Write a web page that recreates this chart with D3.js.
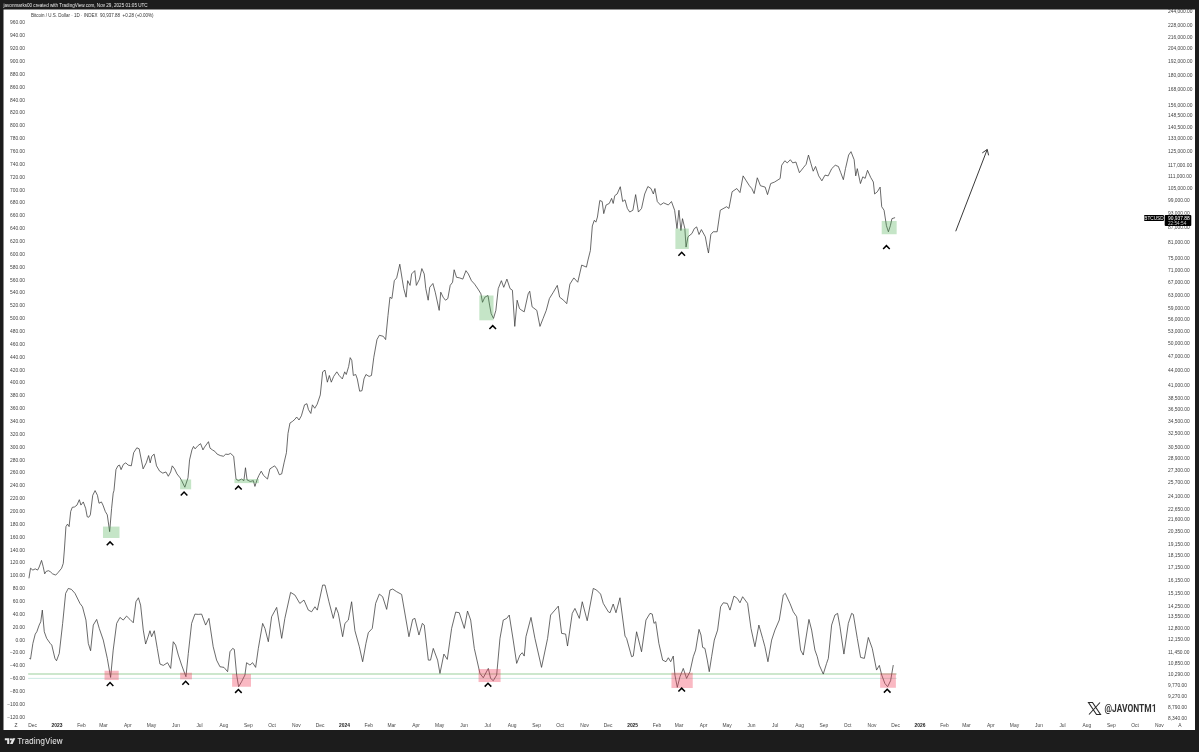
<!DOCTYPE html>
<html>
<head>
<meta charset="utf-8">
<script src="https://cdn.jsdelivr.net/npm/d3@7"></script>
<style>
  html, body { margin: 0; padding: 0; background: #fff; }
  svg { display: block; filter: blur(0.35px); }
  text { font-family: "Liberation Sans", Arial, sans-serif; }
</style>
</head>
<body>
<svg id="chart" width="1199" height="752"></svg>
<script>
// values: [days since 2023-01-01, BTCUSD close]
const priceSeries = [
  [-35,16250],[-33,17050],[-30,16900],[-27,17000],[-24,16900],[-22,17150],[-19,17700],[-17,17200],[-15,16600],[-13,16800],[-10,16850],[-7.5,16750],[-5,16600],[-1,16500],
  [2,16700],[6.5,17050],[8.6,17450],[10,18600],[12,20800],[14,21050],[16,20800],[18,22350],[20,22800],[23,22850],[26,23050],[29,23650],[31,23050],[34,23400],[37,22700],[39,21800],[41,21750],[43,22000],[46,24150],[49,24700],[52,24150],[54,23250],[57,23400],[59,23050],[62,22350],[64.5,22000],[67.5,20300],
  [70,22700],[72,24400],[73,24700],[75.5,27300],[78,27800],[80,27900],[82,27300],[85,28000],[88,28200],[91,27900],[95,27800],[98,29600],[102,30300],[105,30150],[107,29000],[110,27400],[114,28200],[117,29200],[119,28200],[121,29100],[124,29400],[127,27800],[131,27100],[135,26850],[139,27000],[142,26450],[145,27000],[147,27800],[150,27400],[153,26750],[157,26250],[159,25900],[163,25100],[167,26250],[169,28600],[172,30000],[174,30500],[176,30150],[178,30400],[180,30650],[183,30900],[186,30000],[188,30400],[193,31200],[195,30250],[198,30000],[201,29800],[204,29400],[208,29200],[212,29100],[215,29400],[218,29350],[221,29500],[225,29100],[228,26100],[231,25900],[235,26100],[238,25900],[240,27550],[242,26000],[246,25800],[250,25900],[252,25200],[255,26100],[257,26550],[260,27100],[263,26550],[268,26100],[271,27400],[274,27600],[277,27800],[280,27400],[283,26650],[286,26750],[289,28200],[292,29600],[294,32450],[296.5,34100],[300,34400],[303,34750],[305,35100],[308,34600],[311,35300],[315,37200],[318,37400],[320,36350],[323,35700],[325,37200],[328,36600],[331,37300],[335,39000],
  [338,43550],[341,43900],[344,41450],[346.5,42800],[349,41450],[352,42600],[356,43550],[359,42800],[363,42100],[366,43550],[368,43000],[371,44650],[373,46600],[375,46000],[377,42800],[380,43000],[382,42100],[385,39700],[388,39800],[390.5,42100],[393,43000],[397,42600],[400,42800],[403,46700],[407,50800],[410,51850],[415,51600],[418,50800],[421,57000],[423.5,62200],[426,61800],[429,67300],[432,68200],[436,72800],[439,67800],[441,64800],[444,62200],[446,67300],[449,65800],[451,69500],[455,70600],[457,65800],[461,67800],[464,71300],[467,69500],[469,64800],[472,61300],[474,65200],[478,66400],[481,63700],[486,58400],[488,63700],[491,62200],[494,61300],[497,61800],[500,65800],[503,66800],[505,70900],[508,68400],[512,68200],[516,67800],[520,70600],[523,69500],[527,67300],[531,66200],[536,64400],[539,63200],[541,60700],[544,62200],[548,62700],[550,59900],[552,57500],[555,56200],[558,58400],[561,64800],[565,67300],[568,65200],[572,67800],[576,64800],[579,64300],[582,54100],[585,61300],[588,58900],[591,58400],[594,58000],[599,63200],[601,64000],[604,59400],[610,58400],[614,54100],[618,56200],[622,58400],[626,61800],[631,63700],[636,65800],[639,62200],[644,61300],[648,60300],[652,66200],[657,68200],[662,66800],[667,72500],[673,71800],[675,74300],[678,77700],
  [680.5,87400],[683,89800],[685,89000],[687,91200],[690,98700],[693,98200],[695,92700],[698,96600],[702,97300],[705,99700],[707,97300],[709,101000],[712,101800],[716,105400],[719,98200],[722,99000],[725,95000],[728,93400],[732,94200],[735.5,101500],[739,93400],[743,95000],[747,101800],[751,105500],[755,104500],[758,101800],[760,104500],[763,98200],[767,96600],[771,97600],[777,96600],[781,98200],[785,94200],[788,86300],[790.5,94200],[793,85500],[795,90500],[798,86300],[799.5,79000],[802,83000],[807,84300],[810,86300],[813,87000],[816,83900],[819,85900],[824,83000],[826.5,78800],[828,76800],[831,83900],[834,85000],[839,85000],[843,94200],[851,95800],[854,95000],[858,102900],[864,104500],[868,102500],[872,111000],[876,108400],[880,105900],[883,104500],[886,102000],[890,110000],[894,105900],[900,105200],[903,101500],[907,107000],[912,107800],[919,109600],
  [921,116800],[925,119300],[928,118100],[932,119900],[935,118100],[939,118600],[943.5,112700],[949,115700],[952,117300],[955,122600],[958,117900],[961,113500],[964,116100],[968,111000],[972,108400],[976,111400],[980,111000],[984.5,114900],[989,116800],[993,116100],[996,112700],[999.3,109000],[1002,114900],[1006,122600],[1009,124600],[1013,119900],[1015,111000],[1017,114900],[1021,107000],[1024,110500],[1027,109700],[1030,114000],[1034,110200],[1037.4,107800],[1039,101800],[1042.5,102900],[1046,105200],[1048,95800],[1051,94200],[1054,87500],[1056.5,85000],[1059,87500],[1061,90500],[1065,90938]
];

// lower pane oscillator: [days since 2023-01-01, value]
const oscillatorSeries = [
  [-34.5,-29.3],[-33,-30.4],[-30,-6],[-27,8.5],[-25,12.1],[-22,22.5],[-20,27.7],[-18,45.8],[-15.5,12.1],[-12.5,1.8],[-8,-6],[-6,-8.6],[-2,-29.3],[0,-33],[3.5,-21.6],[7.8,25.1],[11.6,71.8],[15,79.5],[19,78],[23.5,71.8],[29.8,56.2],[33,51],[37.4,30.3],[40.4,-6],[43.3,-17.4],[46.7,22.5],[51,31.3],[54.3,17.3],[59.4,-0.8],[64.5,-29.3],[68.7,-58.9],[72,-16.4],[76.4,25.1],[80.6,34.4],[84.8,30.3],[89,36.5],[93.3,31.3],[97.5,26.1],[100.9,58.8],[104,65],[106.8,53.6],[110.2,14.7],[113.2,-7],[116.6,5.4],[118.7,13.7],[120.8,4.4],[124.2,13.7],[128,-13.8],[131.4,-38.1],[135.6,-40.2],[141,-36],[145,-44.9],[148.3,-3.4],[151.3,-8.6],[154.7,-24.1],[158.9,-39.7],[164.4,-57.8],[167.4,-21.6],[171.6,25.1],[175.8,39.6],[180,39.1],[184.3,39.6],[189.4,22.5],[193.6,32.9],[199,-11.2],[203.3,-32],[207.6,-42.3],[212.7,-43.3],[217.3,-50],[220.3,-19],[223.7,-13.8],[225.8,-15.3],[228.8,-55.2],[231.3,-73.4],[235,-65.6],[239.3,-55.2],[241.4,-36],[245.7,-39.7],[249,-36],[252.9,-43.3],[256.3,-13.8],[261.8,25.1],[264.7,17.3],[269,-3.4],[273.2,35.5],[279.6,50],[286,1.8],[290,32.9],[297.3,73.3],[302.8,69.2],[309,56.2],[314.3,61.4],[319.8,45.8],[324,43.2],[328.2,51],[331.2,45.8],[338,84.7],[341,84.7],[346,58.8],[351.5,32.9],[355,50],[357.9,40.7],[363.4,4.4],[366.3,25.1],
  [370.6,30.3],[374.8,58.8],[379,13.7],[384.6,-11.2],[388.8,-34.5],[393,-6],[396,10.6],[401,17.3],[405.3,56.2],[410,70.7],[414.2,66.6],[419.3,46.9],[423.5,77],[427,78.5],[432,74.4],[438.3,70.2],[447.6,4.4],[452.3,31.3],[455.2,32.9],[460.3,7],[464.6,25.1],[467,22.5],[472.2,-32],[475,-32],[478.5,-13.8],[484,-32],[487,-52.7],[492,-22.6],[496.3,-30.9],[501.8,17.3],[507,42.7],[511.5,41.7],[517.9,17.3],[522,44.3],[526,30.3],[530.6,-13.8],[537.8,-52.7],[542,-59.4],[548.4,-44.9],[551.3,-60.4],[554.7,-64],[559,-55.2],[563.2,1.8],[567.4,30.3],[571.7,32.9],[575,38.1],[580,-0.8],[584.4,-37.1],[588.6,-24.1],[591.5,-20.5],[594,-25.7],[596.2,4.4],[602.6,34.4],[607.6,1.8],[616,-43.3],[623.7,1.8],[627.5,38.1],[633,45.8],[637.3,52],[641.5,9.6],[646.6,8.5],[649,-10.1],[655,40.7],[658.4,48.4],[664,32.9],[667.7,58.8],[674,29.3],[681.7,79.5],[686,76.9],[691,70.7],[694.4,56.2],[700.8,43.2],[703,41.7],[707,55.2],[710.5,41.7],[715.6,65],[722,5.4],[724,1.8],[730.4,-26.7],[732.5,-25.7],[736.7,12.1],[743,-19],[748.6,30.3],[753.7,40.7],[756.6,39.6],[758.8,25.1],[761,27.7],[765,-6],[769.8,-32],[774,-34.5],[777,-28.3],[780,-34.5],[783.3,-25.7],[785.4,-55.2],[788.4,-74.4],[791.8,-57.8],[796,-44.9],[800.2,-60.4],
  [804.5,-50],[808.7,-26.7],[811.7,-16.4],[816,15.8],[818.5,7],[820.6,-12.2],[823.5,-13.8],[826.5,-31.9],[829,-50],[832,-26.7],[835.4,-0.8],[839.6,14.7],[843.4,51],[846.8,57.2],[851.9,56.2],[855.3,45.8],[860.4,67.6],[864.6,64],[868,57.2],[871.4,66.6],[877.7,56.2],[882,17.3],[887,-11.2],[892,22.5],[896.8,1.8],[899.7,-11.2],[903.5,-34.5],[908.2,-0.8],[912.4,14.7],[917.9,30.3],[923,69.2],[925.6,71.8],[931.5,56.2],[935.7,43.2],[940,35.5],[945,-16.4],[948.4,-24.1],[955.6,31.3],[959,14.7],[963.2,-16.4],[966.2,-26.7],[968.7,-39.7],[973.8,-53.7],[978,-37.1],[980.2,-29.3],[984.4,22.5],[988.6,38.1],[992,40.7],[995,20],[1000,-22.6],[1005.6,25.1],[1009.8,40.7],[1012,39.1],[1017,1.8],[1021.2,-27.8],[1026,-29.3],[1031,3.3],[1036,-13.8],[1041.5,-47.5],[1045,-40.2],[1048,-55.2],[1052,-68.2],[1055.5,-73.4],[1059.3,-64],[1062.7,-39.7]
];

const leftTicks = [960,940,920,900,880,860,840,820,800,780,760,740,720,700,680,660,640,620,600,580,560,540,520,500,480,460,440,420,400,380,360,340,320,300,280,260,240,220,200,180,160,140,120,100,80,60,40,20,0,-20,-40,-60,-80,-100,-120];
const rightTicks = [244000,228000,216000,204000,192000,180000,168000,156000,148500,140500,133000,125000,117000,111000,105000,99000,93000,87000,81000,75000,71000,67000,63000,59000,56000,53000,50000,47000,44000,41000,38500,36500,34500,32500,30500,28900,27300,25700,24100,22650,21600,20350,19150,18150,17150,16150,15150,14250,13550,12800,12150,11450,10850,10290,9770,9270,8790,8340];

// [first day, last day, low, high]
const greenZones = [[59,80,19700,20800],[157,171,24850,26050],[226,257,25600,26100],[537,555,55700,62700],[786,803,78300,86300],[1048,1067,84000,89500]];
const redZones = [[61,79,-63,-48.5],[157,172,-61.9,-51.6],[223,247,-73.4,-53.7],[536,564,-66.1,-45.9],[781,808,-75.4,-51.6],[1046,1066,-75,-52.6]];
const priceCarets = [[68,19200],[162,24350],[231,25050],[554,53900],[794,76500],[1054,79000]];
const oscCarets = [[68,-69.2],[164,-67.2],[231,-80],[548,-70.3],[794,-78],[1055,-79.6]];
const bandLevels = [-53.7, -60.4];
const arrowFrom = [1142, 85200];
const arrowTo = [1182, 125900];
const lastPrice = 90937.88;

const titleText = 'javonmarks00 created with TradingView.com, Nov 29, 2025 01:05 UTC';
const legendText = 'Bitcoin / U.S. Dollar · 1D · INDEX  90,937.88  +0.28 (+0.00%)';

const svg = d3.select('#chart');
const W = 1199, H = 752;
const frame = {top: 9.5, right: 1195, bottom: 730, left: 3.5};
const dark = '#1c1c1c';

const day0 = Date.UTC(2023, 0, 1);
const toDate = d => new Date(day0 + d * 864e5);

// Scales
const x = d3.scaleUtc()
  .domain([new Date(Date.UTC(2023, 0, 1)), new Date(Date.UTC(2026, 0, 1))])
  .range([56.5, 919.5]);
const yPrice = d3.scaleLog().domain([8340, 125000]).range([718, 151]);
const yOsc = d3.scaleLinear().domain([-120, 960]).range([716.7, 22.3]);

svg.append('rect').attr('width', W).attr('height', H).attr('fill', '#fff');

// Axes
const monthTicks = d3.utcMonth.range(new Date(Date.UTC(2022, 11, 1)), new Date(Date.UTC(2026, 11, 1)));
const isYear = d => d.getUTCMonth() === 0;

const leftAxis = svg.append('g')
  .attr('transform', 'translate(25,0)')
  .call(d3.axisLeft(yOsc).tickValues(leftTicks).tickSize(0).tickPadding(0).tickFormat(d3.format('.2f')));
const rightAxis = svg.append('g')
  .attr('transform', 'translate(1168,0)')
  .call(d3.axisRight(yPrice).tickValues(rightTicks).tickSize(0).tickPadding(0).tickFormat(d3.format(',.2f')));
const timeAxis = svg.append('g')
  .attr('transform', 'translate(0,723.5)')
  .call(d3.axisBottom(x).tickValues(monthTicks).tickSize(0).tickPadding(0)
    .tickFormat(d => isYear(d) ? d3.utcFormat('%Y')(d) : d3.utcFormat('%b')(d)));

[leftAxis, rightAxis, timeAxis].forEach(a => {
  a.select('.domain').remove();
  a.selectAll('text')
    .style('font-family', '"Liberation Sans", Arial, sans-serif')
    .style('font-size', '4.9px')
    .attr('fill', '#444');
});
timeAxis.selectAll('text')
  .style('font-weight', d => isYear(d) ? 'bold' : 'normal')
  .attr('fill', d => isYear(d) ? '#222' : '#444');

// Band lines in the lower pane
const bandColors = ['#9ccf9c', '#bfe3dc'];
svg.selectAll('.band')
  .data(bandLevels)
  .enter().append('line')
    .attr('class', 'band')
    .attr('x1', x(toDate(-36)))
    .attr('x2', x(toDate(1067)))
    .attr('y1', d => yOsc(d))
    .attr('y2', d => yOsc(d))
    .attr('stroke', (d, i) => bandColors[i])
    .attr('stroke-width', (d, i) => i === 0 ? 1.1 : 0.8);

// Lines
const priceLine = d3.line().x(d => x(toDate(d[0]))).y(d => yPrice(d[1]));
const oscLine = d3.line().x(d => x(toDate(d[0]))).y(d => yOsc(d[1]));

svg.append('path')
  .datum(priceSeries)
  .attr('fill', 'none')
  .attr('stroke', '#3a3a3a')
  .attr('stroke-width', 0.75)
  .attr('stroke-linejoin', 'round')
  .attr('d', priceLine);

svg.append('path')
  .datum(oscillatorSeries)
  .attr('fill', 'none')
  .attr('stroke', '#3a3a3a')
  .attr('stroke-width', 0.75)
  .attr('stroke-linejoin', 'round')
  .attr('d', oscLine);

// Highlight zones
function drawZones(zones, y, fill) {
  svg.selectAll(null)
    .data(zones)
    .enter().append('rect')
      .attr('x', d => x(toDate(d[0])))
      .attr('width', d => x(toDate(d[1])) - x(toDate(d[0])))
      .attr('y', d => y(d[3]))
      .attr('height', d => y(d[2]) - y(d[3]))
      .attr('fill', fill);
}
drawZones(greenZones, yPrice, 'rgba(76,175,80,0.32)');
drawZones(redZones, yOsc, 'rgba(240,60,90,0.36)');

// Caret marks
function drawCarets(carets, y) {
  svg.selectAll(null)
    .data(carets)
    .enter().append('path')
      .attr('transform', d => `translate(${x(toDate(d[0]))},${y(d[1])})`)
      .attr('d', 'M-3.3,1.9L0,-1.5L3.3,1.9')
      .attr('fill', 'none')
      .attr('stroke', '#000')
      .attr('stroke-width', 1.5);
}
drawCarets(priceCarets, yPrice);
drawCarets(oscCarets, yOsc);

// Arrow
const ax1 = x(toDate(arrowFrom[0])), ay1 = yPrice(arrowFrom[1]);
const ax2 = x(toDate(arrowTo[0])), ay2 = yPrice(arrowTo[1]);
const angle = Math.atan2(ay2 - ay1, ax2 - ax1);
const head = a => [ax2 - 6 * Math.cos(angle + a), ay2 - 6 * Math.sin(angle + a)];
svg.append('path')
  .attr('d', `M${ax1},${ay1}L${ax2},${ay2}M${head(0.6)}L${ax2},${ay2}L${head(-0.6)}`)
  .attr('fill', 'none')
  .attr('stroke', '#222')
  .attr('stroke-width', 0.9);

// Price labels on the right
const py = yPrice(lastPrice);
svg.append('rect').attr('x', 1144).attr('y', py - 2.6).attr('width', 20).attr('height', 6).attr('rx', 1).attr('fill', '#000');
svg.append('rect').attr('x', 1164.7).attr('y', py - 2.6).attr('width', 26.6).attr('height', 11).attr('rx', 1).attr('fill', '#000');
svg.append('text').attr('x', 1154).attr('y', py + 2).attr('text-anchor', 'middle').attr('font-size', 4.7).attr('fill', '#fff').text('BTCUSD');
svg.append('text').attr('x', 1168).attr('y', py + 2).attr('font-size', 4.9).attr('fill', '#fff').text('90,937.88');
svg.append('text').attr('x', 1168).attr('y', py + 7).attr('font-size', 4.7).attr('fill', '#ccc').text('22:54:54');

// Legend
svg.append('text').attr('x', 31).attr('y', 16.8).attr('font-size', 4.5).attr('fill', '#333').style('white-space', 'pre').text(legendText);

// Corner labels of the time axis
svg.append('text').attr('x', 16).attr('y', 727).attr('text-anchor', 'middle').attr('font-size', 4.9).attr('fill', '#444').text('Z');
svg.append('text').attr('x', 1180).attr('y', 727).attr('text-anchor', 'middle').attr('font-size', 4.9).attr('fill', '#444').text('A');

// Watermark
svg.append('path')
  .attr('d', 'M1088.5,702.5L1092.5,702.5L1100.5,714.5L1096.5,714.5Z M1100,702.5L1089,714.5')
  .attr('fill', 'none')
  .attr('stroke', '#2b2b2b')
  .attr('stroke-width', 1.1);
svg.append('text')
  .attr('x', 1104.5).attr('y', 712)
  .attr('font-size', 10.5).attr('font-weight', 'bold').attr('fill', '#333')
  .attr('textLength', 52).attr('lengthAdjust', 'spacingAndGlyphs')
  .style('font-family', 'Roboto, sans-serif')
  .text('@JAVONTM1');

// Dark frame
svg.append('path')
  .attr('fill-rule', 'evenodd')
  .attr('fill', dark)
  .attr('d', `M0,0H${W}V${H}H0Z M${frame.left},${frame.top}V${frame.bottom}H${frame.right}V${frame.top}Z`);

svg.append('text').attr('x', 3.5).attr('y', 7.2).attr('font-size', 4.6).attr('fill', '#e8e8e8').text(titleText);

// TradingView logo
const logo = svg.append('g').attr('fill', '#e6e6e6');
logo.append('path').attr('d', 'M4.8,738.3H9.3V744H7.2V740.2H4.8Z');
logo.append('circle').attr('cx', 11).attr('cy', 739.4).attr('r', 1.1);
logo.append('path').attr('d', 'M12.6,738.3H15.3L12.6,744H10Z');
svg.append('text')
  .attr('x', 17.3).attr('y', 743.8)
  .attr('font-size', 7.6).attr('font-weight', 500).attr('fill', '#dcdcdc')
  .style('font-family', 'Inter, Roboto, sans-serif')
  .text('TradingView');
</script>
</body>
</html>
